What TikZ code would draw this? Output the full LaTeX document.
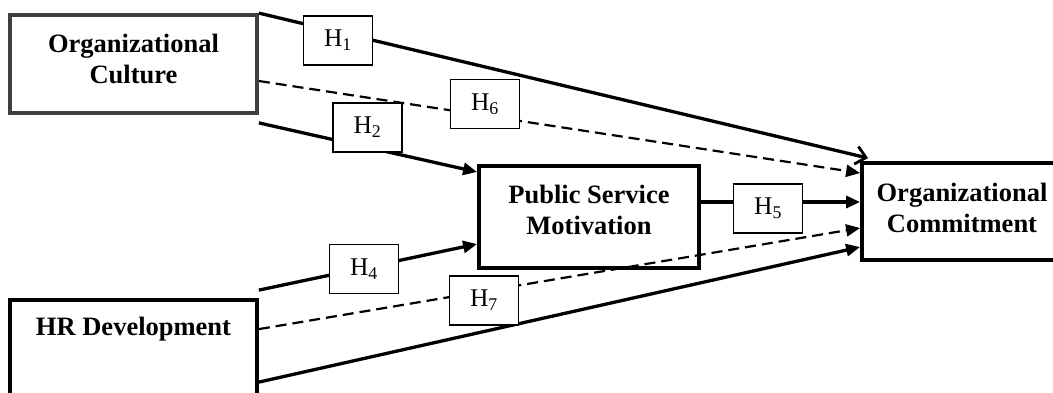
\documentclass[tikz,border=0pt]{standalone}
\usepackage{fontspec}
\setmainfont{Liberation Serif}
\usetikzlibrary{arrows.meta}
\begin{document}
\begin{tikzpicture}[x=1pt,y=-1pt,
  bigbox/.style={draw, line width=3.8pt, inner sep=0pt},
  lbl/.style={draw, line width=1.6pt, fill=white, minimum width=69pt, minimum height=49pt, inner sep=0pt, font=\fontsize{25.5}{28}\selectfont},
  bigtext/.style={align=center, inner sep=0pt, font=\fontsize{26.5}{31}\selectfont\bfseries},
  solidarr/.style={line width=3.3pt, -{Triangle[length=14pt,width=12pt]}},
  openarr/.style={line width=3.3pt, -{Straight Barb[length=10pt,width=18pt,line width=2.8pt]}},
  dasharr/.style={line width=2.2pt, dash pattern=on 11pt off 6pt, -{Triangle[length=14pt,width=12pt]}}
  ]
\useasboundingbox (0,0) rectangle (1053,392);
\clip (0,0) rectangle (1053,392);
% main boxes
\node[bigbox, draw=black!75, minimum width=247pt, minimum height=98pt] (cult) at (133.5,64) {};
\node[bigtext] (culttxt) at (133.5,59) {Organizational\\Culture};
\node[bigbox, minimum width=247pt, minimum height=100pt] (hr) at (133.5,350) {};
\node[bigtext] (hrtxt) at (133.5,329) {HR Development};
\node[bigbox, minimum width=220pt, minimum height=102pt] (psm) at (589,217) {};
\node[bigtext] (psmtxt) at (589,210) {Public Service\\Motivation};
\node[bigbox, minimum width=200pt, minimum height=97pt] (oc) at (962,211.5) {};
\node[bigtext] (octxt) at (962,207.5) {Organizational\\Commitment};
% connectors
\draw[openarr] (cult.north east) -- ([xshift=8pt,yshift=3pt]oc.north west);
\draw[dasharr] ([yshift=-17pt]cult.east) -- ([yshift=38.5pt]oc.west);
\draw[solidarr] ([yshift=-8pt]cult.south east) -- ([yshift=45pt]psm.west);
\draw[solidarr] ([yshift=8pt]hr.north east) -- ([yshift=-27pt]psm.west);
\draw[solidarr] ([yshift=15pt]psm.east) -- ([yshift=9.5pt]oc.west);
\draw[dasharr] ([yshift=-31pt]hr.north east) -- ([yshift=-16.5pt]oc.west);
\draw[solidarr] ([yshift=-84pt]hr.north east) -- ([yshift=-35.5pt]oc.west);
% hypothesis labels
\node[lbl] (h1) at (338,40.5) {H\textsubscript{1}};
\node[lbl] (h2) at (367.5,127.5) {H\textsubscript{2}};
\node[lbl] (h4) at (364,269) {H\textsubscript{4}};
\node[lbl] (h5) at (768,208.5) {H\textsubscript{5}};
\node[lbl] (h6) at (485,104) {H\textsubscript{6}};
\node[lbl] (h7) at (484,300.5) {H\textsubscript{7}};
\end{tikzpicture}
\end{document}
